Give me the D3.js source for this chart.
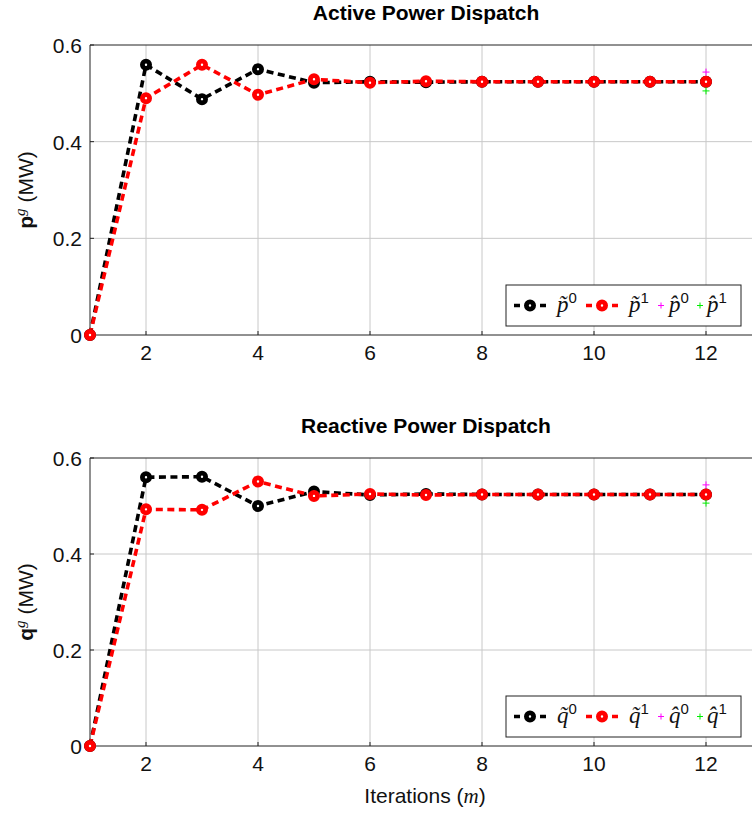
<!DOCTYPE html>
<html>
<head>
<meta charset="utf-8">
<script src="https://cdn.jsdelivr.net/npm/d3@7"></script>
<style>
  body { margin: 0; background: #fff; }
  svg { display: block; font-family: "Liberation Sans", Arial, sans-serif; }
</style>
</head>
<body>
<div id="chart"></div>
<script>
// iterations and dispatch values
const iterations = [1, 2, 3, 4, 5, 6, 7, 8, 9, 10, 11, 12];
const pTilde0 = [0, 0.559, 0.488, 0.550, 0.522, 0.524, 0.523, 0.524, 0.524, 0.524, 0.524, 0.524];
const pTilde1 = [0, 0.490, 0.559, 0.497, 0.529, 0.522, 0.525, 0.524, 0.524, 0.524, 0.524, 0.524];
const pHat0 = [[12, 0.544]];
const pHat1 = [[12, 0.505]];
const qTilde0 = [0, 0.560, 0.561, 0.500, 0.530, 0.523, 0.525, 0.524, 0.524, 0.524, 0.524, 0.524];
const qTilde1 = [0, 0.493, 0.492, 0.551, 0.521, 0.525, 0.523, 0.524, 0.524, 0.524, 0.524, 0.524];
const qHat0 = [[12, 0.544]];
const qHat1 = [[12, 0.506]];
const xTicks = [2, 4, 6, 8, 10, 12];
const yTicks = [0, 0.2, 0.4, 0.6];

const W = 752, H = 815;
const svg = d3.select("#chart").append("svg").attr("width", W).attr("height", H);

const x = d3.scaleLinear().domain([1, 13]).range([90, 762]);
const LW = 3.6;
const DASH = "7,4.5";

function drawPanel(cfg) {
  const y = d3.scaleLinear().domain([0, 0.6]).range([cfg.bottom, cfg.top]);
  const g = svg.append("g");

  // grid
  g.selectAll("line.gx").data(xTicks).enter().append("line")
    .attr("x1", d => x(d)).attr("x2", d => x(d))
    .attr("y1", cfg.top).attr("y2", cfg.bottom)
    .attr("stroke", "#c8c8c8").attr("stroke-width", 1);
  g.selectAll("line.gy").data(yTicks.slice(1, -1)).enter().append("line")
    .attr("x1", x(1)).attr("x2", W)
    .attr("y1", d => y(d)).attr("y2", d => y(d))
    .attr("stroke", "#c8c8c8").attr("stroke-width", 1);

  // axes frame
  g.append("line").attr("x1", x(1)).attr("x2", W).attr("y1", cfg.top).attr("y2", cfg.top).attr("stroke", "#222");
  g.append("line").attr("x1", x(1)).attr("x2", W).attr("y1", cfg.bottom).attr("y2", cfg.bottom).attr("stroke", "#222");
  g.append("line").attr("x1", x(1)).attr("x2", x(1)).attr("y1", cfg.top).attr("y2", cfg.bottom).attr("stroke", "#222");

  // tick marks (inward)
  g.selectAll("line.tx").data(xTicks).enter().append("line")
    .attr("x1", d => x(d)).attr("x2", d => x(d))
    .attr("y1", cfg.bottom).attr("y2", cfg.bottom - 4).attr("stroke", "#222");
  g.selectAll("line.ty").data(yTicks).enter().append("line")
    .attr("x1", x(1)).attr("x2", x(1) + 4)
    .attr("y1", d => y(d)).attr("y2", d => y(d)).attr("stroke", "#222");

  // tick labels
  g.selectAll("text.tx").data(xTicks).enter().append("text")
    .attr("x", d => x(d)).attr("y", cfg.bottom + 25)
    .attr("text-anchor", "middle").attr("font-size", 21).attr("fill", "#111")
    .text(d => d);
  g.selectAll("text.ty").data(yTicks).enter().append("text")
    .attr("x", x(1) - 8).attr("y", d => y(d) + 8)
    .attr("text-anchor", "end").attr("font-size", 21).attr("fill", "#111")
    .text(d => d === 0 ? "0" : d.toFixed(1));

  // title
  g.append("text").attr("x", 426).attr("y", cfg.top - 25)
    .attr("text-anchor", "middle").attr("font-size", 21).attr("font-weight", "bold")
    .text(cfg.title);

  // y label
  const yl = g.append("text")
    .attr("transform", `translate(33,${(cfg.top + cfg.bottom) / 2}) rotate(-90)`)
    .attr("text-anchor", "middle").attr("font-size", 21).attr("fill", "#111");
  yl.append("tspan").attr("font-weight", "bold").text(cfg.sym);
  yl.append("tspan").attr("font-family", "Liberation Serif").attr("font-style", "italic")
    .attr("font-size", 15).attr("dy", -8).text("g");
  yl.append("tspan").attr("dy", 8).text(" (MW)");

  const line = d3.line().x((d, i) => x(iterations[i])).y(d => y(d));

  const series = [
    { vals: cfg.s0, color: "#000" },
    { vals: cfg.s1, color: "#ff0000" }
  ];
  series.forEach(s => {
    g.append("path").datum(s.vals)
      .attr("d", line).attr("fill", "none")
      .attr("stroke", s.color).attr("stroke-width", LW)
      .attr("stroke-dasharray", DASH);
  });
  series.forEach(s => {
    g.selectAll(null).data(s.vals).enter().append("circle")
      .attr("cx", (d, i) => x(iterations[i])).attr("cy", d => y(d))
      .attr("r", 3.6).attr("fill", "#fff")
      .attr("stroke", s.color).attr("stroke-width", 4.8);
  });

  // hat markers (+)
  const plus = (pts, color) => {
    pts.forEach(p => {
      const cx = x(p[0]), cy = y(p[1]);
      g.append("path").attr("d", `M${cx - 3.5},${cy}H${cx + 3.5}M${cx},${cy - 3.5}V${cy + 3.5}`)
        .attr("stroke", color).attr("stroke-width", 1);
    });
  };
  plus(cfg.h0, "#ff00ff");
  plus(cfg.h1, "#00ee00");

  // legend
  const lx = 506, ly = cfg.legendY, lw = 235, lh = 41;
  const lg = g.append("g");
  lg.append("rect").attr("x", lx).attr("y", ly).attr("width", lw).attr("height", lh)
    .attr("fill", "#fff").attr("stroke", "#222").attr("stroke-width", 1);
  const cy = ly + lh / 2;
  const sample = (x0, color) => {
    lg.append("line").attr("x1", x0).attr("x2", x0 + 32).attr("y1", cy).attr("y2", cy)
      .attr("stroke", color).attr("stroke-width", LW).attr("stroke-dasharray", "6,6.5,7,6.5,6");
    lg.append("circle").attr("cx", x0 + 16).attr("cy", cy).attr("r", 3.6)
      .attr("fill", "#fff").attr("stroke", color).attr("stroke-width", 4.8);
  };
  const mathLabel = (x0, accent, sup) => {
    const t = lg.append("text").attr("x", x0).attr("y", cy + 6).attr("font-size", 23).attr("fill", "#111");
    t.append("tspan").attr("font-family", "Liberation Serif").attr("font-style", "italic").text(cfg.letter + accent);
    t.append("tspan").attr("font-size", 15).attr("dy", -9).text(sup);
  };
  const lplus = (x0, color) => {
    lg.append("path").attr("d", `M${x0 - 3},${cy}H${x0 + 3}M${x0},${cy - 3}V${cy + 3}`)
      .attr("stroke", color).attr("stroke-width", 1);
  };
  sample(514, "#000");
  mathLabel(557, "\u0303", "0");
  sample(586, "#ff0000");
  mathLabel(629, "\u0303", "1");
  lplus(661, "#ff00ff");
  mathLabel(669, "\u0302", "0");
  lplus(700, "#00ee00");
  mathLabel(707, "\u0302", "1");
}

drawPanel({ top: 45, bottom: 335, title: "Active Power Dispatch", sym: "p", letter: "p",
  s0: pTilde0, s1: pTilde1, h0: pHat0, h1: pHat1, legendY: 285 });
drawPanel({ top: 458, bottom: 746, title: "Reactive Power Dispatch", sym: "q", letter: "q",
  s0: qTilde0, s1: qTilde1, h0: qHat0, h1: qHat1, legendY: 696 });

// x axis label
const xl = svg.append("text").attr("x", 425).attr("y", 803)
  .attr("text-anchor", "middle").attr("font-size", 21).attr("fill", "#111");
xl.append("tspan").text("Iterations (");
xl.append("tspan").attr("font-family", "Liberation Serif").attr("font-style", "italic").text("m");
xl.append("tspan").text(")");
</script>
</body>
</html>
